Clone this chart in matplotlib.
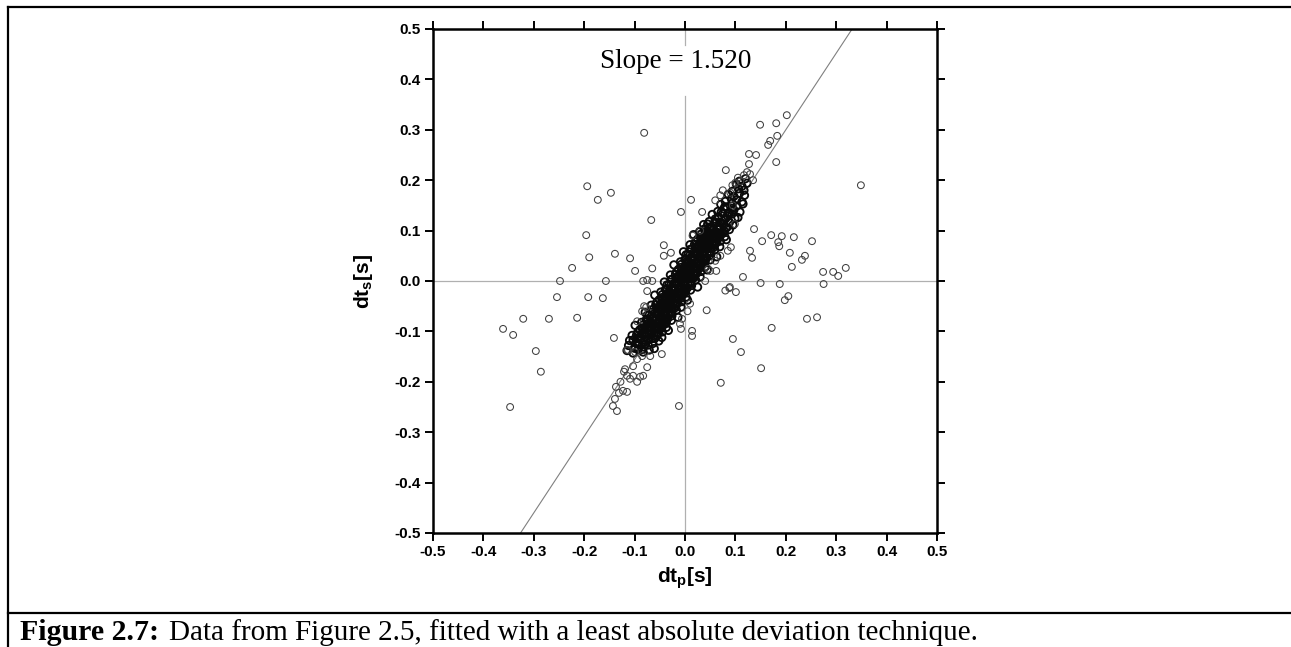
import matplotlib
matplotlib.use("Agg")
import matplotlib.pyplot as plt
import numpy as np

plt.rcParams['font.family'] = ['Liberation Sans', 'DejaVu Sans']
plt.rcParams['mathtext.default'] = 'regular'
plt.rcParams['axes.unicode_minus'] = False

# outliers scattered away from the main trend (dt_p, dt_s) in seconds
outlier_x = [-0.081, -0.194, -0.173, -0.147, -0.196, -0.190, -0.139, -0.224, -0.109,
             -0.099, -0.065, -0.067, -0.248, -0.157, -0.083, -0.075, -0.065, -0.254,
             -0.192, -0.163, -0.361, -0.341, -0.321, -0.270, -0.214, -0.296, -0.286,
             -0.347, -0.141, -0.081, -0.077, -0.115, 0.150, 0.188, 0.275, 0.080,
             0.088, 0.101, 0.043, 0.198, 0.205, 0.242, 0.262, 0.172, 0.095, 0.111,
             0.151, 0.071, -0.012, 0.014, 0.014, -0.008, -0.046, 0.349, 0.012,
             -0.008, 0.034, 0.099, 0.137, 0.153, 0.171, 0.185, 0.187, 0.192, 0.216,
             0.252, 0.208, 0.232, 0.238, 0.212, 0.274, 0.294, 0.304, 0.319, 0.115,
             0.062, 0.046, 0.091, 0.129, 0.133, -0.042, -0.028, -0.042, -0.006,
             0.089]
outlier_y = [0.294, 0.188, 0.161, 0.175, 0.091, 0.047, 0.054, 0.026, 0.045,
             0.020, 0.025, 0.121, 0.000, 0.000, 0.000, 0.002, 0.000, -0.032,
             -0.032, -0.034, -0.095, -0.107, -0.075, -0.075, -0.073, -0.139, -0.180,
             -0.250, -0.113, -0.050, -0.052, -0.137, -0.004, -0.006, -0.006, -0.019,
             -0.014, -0.022, -0.058, -0.038, -0.030, -0.075, -0.072, -0.093, -0.115, -0.141,
             -0.173, -0.202, -0.248, -0.099, -0.109, -0.095, -0.145, 0.190, 0.161,
             0.137, 0.137, 0.113, 0.103, 0.079, 0.091, 0.077, 0.069, 0.089, 0.087,
             0.079, 0.056, 0.042, 0.050, 0.028, 0.018, 0.018, 0.010, 0.026, 0.008,
             0.020, 0.024, 0.067, 0.060, 0.046, 0.071, 0.056, 0.050, -0.075,
             -0.012]

# sparse tails of the trend
tail_x = [-0.137, -0.139, -0.143, -0.135, -0.119, -0.115, -0.109, -0.103, -0.095,
          -0.089, -0.083, -0.123, -0.115, -0.103, -0.095, -0.085, -0.075, -0.113,
          -0.099, -0.069, -0.128, -0.131, -0.121,
          0.094, 0.100, 0.105, 0.110, 0.117, 0.123, 0.129, 0.135, 0.127, 0.081,
          0.127, 0.141, 0.165, 0.169, 0.181, 0.183, 0.149, 0.181, 0.202, 0.090,
          0.075, 0.070, 0.060, 0.095, -0.010, 0.005, 0.010, -0.075, -0.085,
          -0.095, 0.040, 0.050, 0.060, 0.070, 0.085, 0.030, 0.015]
tail_y = [-0.210, -0.234, -0.248, -0.258, -0.175, -0.188, -0.194, -0.188, -0.200,
          -0.190, -0.188, -0.218, -0.220, -0.169, -0.155, -0.149, -0.171, -0.137,
          -0.141, -0.149, -0.200, -0.222, -0.180,
          0.190, 0.195, 0.205, 0.198, 0.210, 0.216, 0.212, 0.200, 0.232, 0.220,
          0.252, 0.250, 0.270, 0.278, 0.236, 0.288, 0.310, 0.313, 0.329, 0.175,
          0.180, 0.170, 0.160, 0.150, -0.085, -0.060, -0.045, -0.020, -0.060,
          -0.080, 0.000, 0.020, 0.040, 0.050, 0.060, 0.100, 0.090]

# dense core of the trend
core_x = [
    -0.115, -0.103, -0.093, -0.083, -0.071,
    -0.112, -0.100, -0.091, -0.082, -0.073, -0.061,
    -0.110, -0.098, -0.089, -0.081, -0.073, -0.064, -0.052,
    -0.105, -0.094, -0.085, -0.078, -0.071, -0.064, -0.056, -0.046,
    -0.094, -0.083, -0.075, -0.068, -0.061, -0.054, -0.045, -0.033,
    -0.099, -0.085, -0.075, -0.068, -0.061, -0.054, -0.046, -0.037,
    -0.086, -0.075, -0.066, -0.059, -0.052, -0.045, -0.037, -0.027,
    -0.075, -0.064, -0.056, -0.049, -0.042, -0.035, -0.026, -0.014,
    -0.079, -0.065, -0.055, -0.048, -0.041, -0.034, -0.026, -0.017,
    -0.067, -0.056, -0.047, -0.040, -0.033, -0.026, -0.018, -0.008,
    -0.056, -0.045, -0.037, -0.030, -0.023, -0.016, -0.007, 0.005,
    -0.060, -0.046, -0.036, -0.029, -0.022, -0.015, -0.007, 0.002,
    -0.048, -0.037, -0.028, -0.021, -0.014, -0.007, 0.001, 0.011,
    -0.036, -0.025, -0.017, -0.010, -0.003, 0.004, 0.013, 0.025,
    -0.041, -0.027, -0.017, -0.010, -0.003, 0.004, 0.012, 0.021,
    -0.029, -0.018, -0.009, -0.002, 0.005, 0.012, 0.020, 0.030,
    -0.017, -0.006, 0.002, 0.009, 0.016, 0.023, 0.032, 0.044,
    -0.022, -0.008, 0.002, 0.009, 0.016, 0.023, 0.031, 0.040,
    -0.009, 0.002, 0.011, 0.018, 0.025, 0.032, 0.040, 0.050,
    0.002, 0.013, 0.021, 0.028, 0.035, 0.042, 0.051, 0.063,
    -0.003, 0.011, 0.021, 0.028, 0.035, 0.042, 0.050, 0.059,
    0.010, 0.021, 0.030, 0.037, 0.044, 0.051, 0.059, 0.069,
    0.021, 0.032, 0.040, 0.047, 0.054, 0.061, 0.070, 0.082,
    0.017, 0.031, 0.041, 0.048, 0.055, 0.062, 0.070, 0.079,
    0.029, 0.040, 0.049, 0.056, 0.063, 0.070, 0.078, 0.088,
    0.037, 0.049, 0.058, 0.066, 0.074, 0.083, 0.095,
    0.048, 0.060, 0.069, 0.078, 0.087, 0.099,
    0.054, 0.066, 0.075, 0.084, 0.093, 0.105,
    0.065, 0.077, 0.087, 0.097, 0.109,
    0.071, 0.083, 0.093, 0.103, 0.115,
    0.080, 0.092, 0.102, 0.113,
    0.086, 0.097, 0.108, 0.118,
    0.094, 0.106, 0.117,
    0.102, 0.113, 0.123,
    0.108, 0.120,
    -0.079, -0.070, -0.061, -0.052, -0.072, -0.063, -0.054, -0.045,
    -0.066, -0.057, -0.048, -0.039, -0.060, -0.051, -0.042, -0.033,
    -0.053, -0.044, -0.035, -0.026, -0.047, -0.038, -0.029, -0.020,
    -0.040, -0.031, -0.022, -0.013, -0.034, -0.025, -0.016, -0.007,
    -0.028, -0.019, -0.010, -0.001, -0.021, -0.012, -0.003, 0.006,
    -0.015, -0.006, 0.003, 0.012, -0.008, 0.001, 0.010, 0.019,
    -0.002, 0.007, 0.016, 0.025, 0.004, 0.013, 0.022, 0.031,
    0.011, 0.020, 0.029, 0.038, 0.017, 0.026, 0.035, 0.044,
    0.024, 0.033, 0.042, 0.051, 0.030, 0.039, 0.048, 0.057,
    0.036, 0.045, 0.054, 0.063, 0.043, 0.052, 0.061, 0.070,
    -0.100, -0.085, -0.094, -0.079,
    -0.103, -0.088, -0.073, -0.060, -0.096, -0.081, -0.066, -0.053,
    -0.090, -0.075, -0.060, -0.047, -0.083, -0.068, -0.053, -0.040,
    -0.077, -0.062, -0.047, -0.034, -0.071, -0.056, -0.041, -0.028,
    -0.064, -0.049, -0.034, -0.021, -0.058, -0.043, -0.028, -0.015,
    -0.051, -0.036, -0.021, -0.008, -0.045, -0.030, -0.015, -0.002,
    -0.039, -0.024, -0.009, 0.004, -0.032, -0.017, -0.002, 0.011,
    -0.026, -0.011, 0.004, 0.017, -0.019, -0.004, 0.011, 0.024,
    -0.013, 0.002, 0.017, 0.030, -0.007, 0.008, 0.023, 0.036,
    0.000, 0.015, 0.030, 0.043, 0.006, 0.021, 0.036, 0.049,
    0.013, 0.028, 0.043, 0.056, 0.019, 0.034, 0.049, 0.062,
    0.025, 0.040, 0.055, 0.068, 0.032, 0.047, 0.062, 0.075,
    0.038, 0.053, 0.068, 0.081, 0.045, 0.060, 0.075, 0.088,
    0.066, 0.081, 0.072, 0.087, 0.079, 0.094,
]
core_y = [
    -0.138, -0.143, -0.136, -0.141, -0.137,
    -0.128, -0.133, -0.126, -0.131, -0.127, -0.134,
    -0.118, -0.123, -0.116, -0.121, -0.117, -0.124, -0.119,
    -0.108, -0.113, -0.106, -0.111, -0.107, -0.114, -0.109, -0.112,
    -0.102, -0.097, -0.104, -0.099, -0.103, -0.096, -0.101, -0.098,
    -0.088, -0.093, -0.086, -0.091, -0.087, -0.094, -0.089, -0.092,
    -0.082, -0.077, -0.084, -0.079, -0.083, -0.076, -0.081, -0.078,
    -0.068, -0.073, -0.066, -0.071, -0.067, -0.074, -0.069, -0.072,
    -0.062, -0.057, -0.064, -0.059, -0.063, -0.056, -0.061, -0.058,
    -0.048, -0.053, -0.046, -0.051, -0.047, -0.054, -0.049, -0.052,
    -0.042, -0.037, -0.044, -0.039, -0.043, -0.036, -0.041, -0.038,
    -0.028, -0.033, -0.026, -0.031, -0.027, -0.034, -0.029, -0.032,
    -0.022, -0.017, -0.024, -0.019, -0.023, -0.016, -0.021, -0.018,
    -0.008, -0.013, -0.006, -0.011, -0.007, -0.014, -0.009, -0.012,
    -0.002, 0.003, -0.004, 0.001, -0.003, 0.004, -0.001, 0.002,
    0.012, 0.007, 0.014, 0.009, 0.013, 0.006, 0.011, 0.008,
    0.018, 0.023, 0.016, 0.021, 0.017, 0.024, 0.019, 0.022,
    0.032, 0.027, 0.034, 0.029, 0.033, 0.026, 0.031, 0.028,
    0.038, 0.043, 0.036, 0.041, 0.037, 0.044, 0.039, 0.042,
    0.052, 0.047, 0.054, 0.049, 0.053, 0.046, 0.051, 0.048,
    0.058, 0.063, 0.056, 0.061, 0.057, 0.064, 0.059, 0.062,
    0.072, 0.067, 0.074, 0.069, 0.073, 0.066, 0.071, 0.068,
    0.078, 0.083, 0.076, 0.081, 0.077, 0.084, 0.079, 0.082,
    0.092, 0.087, 0.094, 0.089, 0.093, 0.086, 0.091, 0.088,
    0.098, 0.103, 0.096, 0.101, 0.097, 0.104, 0.099, 0.102,
    0.112, 0.107, 0.114, 0.109, 0.113, 0.106, 0.111,
    0.118, 0.123, 0.116, 0.121, 0.117, 0.124,
    0.132, 0.127, 0.134, 0.129, 0.133, 0.126,
    0.138, 0.143, 0.136, 0.141, 0.137,
    0.152, 0.147, 0.154, 0.149, 0.153,
    0.158, 0.163, 0.161, 0.157,
    0.172, 0.168, 0.174, 0.170,
    0.178, 0.183, 0.180,
    0.192, 0.188, 0.194,
    0.198, 0.203,
    -0.094, -0.097, -0.093, -0.096, -0.084, -0.087, -0.083, -0.086,
    -0.074, -0.077, -0.073, -0.076, -0.064, -0.067, -0.063, -0.066,
    -0.054, -0.057, -0.053, -0.056, -0.044, -0.047, -0.043, -0.046,
    -0.034, -0.037, -0.033, -0.036, -0.024, -0.027, -0.023, -0.026,
    -0.014, -0.017, -0.013, -0.016, -0.004, -0.007, -0.003, -0.006,
    0.006, 0.003, 0.007, 0.004, 0.016, 0.013, 0.017, 0.014,
    0.026, 0.023, 0.027, 0.024, 0.036, 0.033, 0.037, 0.034,
    0.046, 0.043, 0.047, 0.044, 0.056, 0.053, 0.057, 0.054,
    0.066, 0.063, 0.067, 0.064, 0.076, 0.073, 0.077, 0.074,
    0.086, 0.083, 0.087, 0.084, 0.096, 0.093, 0.097, 0.094,
    -0.133, -0.136, -0.123, -0.126,
    -0.117, -0.113, -0.116, -0.114, -0.107, -0.103, -0.106, -0.104,
    -0.097, -0.093, -0.096, -0.094, -0.087, -0.083, -0.086, -0.084,
    -0.077, -0.073, -0.076, -0.074, -0.067, -0.063, -0.066, -0.064,
    -0.057, -0.053, -0.056, -0.054, -0.047, -0.043, -0.046, -0.044,
    -0.037, -0.033, -0.036, -0.034, -0.027, -0.023, -0.026, -0.024,
    -0.017, -0.013, -0.016, -0.014, -0.007, -0.003, -0.006, -0.004,
    0.003, 0.007, 0.004, 0.006, 0.013, 0.017, 0.014, 0.016,
    0.023, 0.027, 0.024, 0.026, 0.033, 0.037, 0.034, 0.036,
    0.043, 0.047, 0.044, 0.046, 0.053, 0.057, 0.054, 0.056,
    0.063, 0.067, 0.064, 0.066, 0.073, 0.077, 0.074, 0.076,
    0.083, 0.087, 0.084, 0.086, 0.093, 0.097, 0.094, 0.096,
    0.103, 0.107, 0.104, 0.106, 0.113, 0.117, 0.114, 0.116,
    0.127, 0.124, 0.137, 0.134, 0.147, 0.144,
]

# least absolute deviation fit
slope = 1.520
intercept = -0.004
fit_x = [-0.5, 0.5]

ticks = [-0.5, -0.4, -0.3, -0.2, -0.1, 0.0, 0.1, 0.2, 0.3, 0.4, 0.5]
tick_labels = ['-0.5', '-0.4', '-0.3', '-0.2', '-0.1', '0.0', '0.1', '0.2', '0.3', '0.4', '0.5']

fig = plt.figure(figsize=(12.91, 6.47), dpi=100)
ax = fig.add_axes([433 / 1291, 114 / 647, 504 / 1291, 504 / 647])

# zero reference lines (vertical one is interrupted by the slope label)
ax.axhline(0, color='#b0b0b0', lw=0.9, zorder=1)
ax.axvline(0, ymin=0, ymax=0.867, color='#b0b0b0', lw=0.9, zorder=1)
ax.axvline(0, ymin=0.968, ymax=1.0, color='#b0b0b0', lw=0.9, zorder=1)

fx = np.array(fit_x)
ax.plot(fx, slope * fx + intercept, color='#808080', lw=0.8, zorder=2)

ax.scatter(core_x, core_y, s=28, facecolors='none', edgecolors='#0a0a0a',
           linewidths=1.35, zorder=3)
ax.scatter(tail_x + outlier_x, tail_y + outlier_y, s=24, facecolors='none',
           edgecolors='#404040', linewidths=0.75, zorder=3)

ax.text(-0.018, 0.436, f'Slope = {slope:.3f}', family='Liberation Serif',
        fontsize=19.5, ha='center', va='center', zorder=4)

ax.set_xlim(-0.5, 0.5)
ax.set_ylim(-0.5, 0.5)
ax.set_xticks(ticks)
ax.set_xticklabels(tick_labels)
ax.set_yticks(ticks)
ax.set_yticklabels(tick_labels)
ax.tick_params(direction='out', length=6, width=1.4, labelsize=11,
               top=True, right=True, pad=3)
for lab in ax.get_xticklabels() + ax.get_yticklabels():
    lab.set_fontweight('bold')
for sp in ax.spines.values():
    sp.set_linewidth(1.8)

ax.set_xlabel('dt$_{p}$[s]', fontsize=15, fontweight='bold', labelpad=4)
ax.set_ylabel('dt$_{s}$[s]', fontsize=15, fontweight='bold', labelpad=14)

# document frame and caption
fig.add_artist(plt.Line2D([8 / 1291, 1.0], [1 - 7 / 647, 1 - 7 / 647],
                          color='black', lw=1.6, transform=fig.transFigure))
fig.add_artist(plt.Line2D([8 / 1291, 8 / 1291], [0, 1 - 7 / 647],
                          color='black', lw=1.6, transform=fig.transFigure))
fig.add_artist(plt.Line2D([8 / 1291, 1.0], [1 - 613 / 647, 1 - 613 / 647],
                          color='black', lw=1.6, transform=fig.transFigure))

cap1 = fig.text(20 / 1291, 1 - 640 / 647, 'Figure 2.7:', family='Liberation Serif',
                fontsize=21.5, fontweight='bold', ha='left', va='baseline')
ax.annotate('Data from Figure 2.5, fitted with a least absolute deviation technique.',
            xy=(1, 0), xycoords=cap1, xytext=(7, 0), textcoords='offset points',
            family='Liberation Serif', fontsize=21, ha='left', va='bottom')

fig.savefig('out.png', dpi=100)
